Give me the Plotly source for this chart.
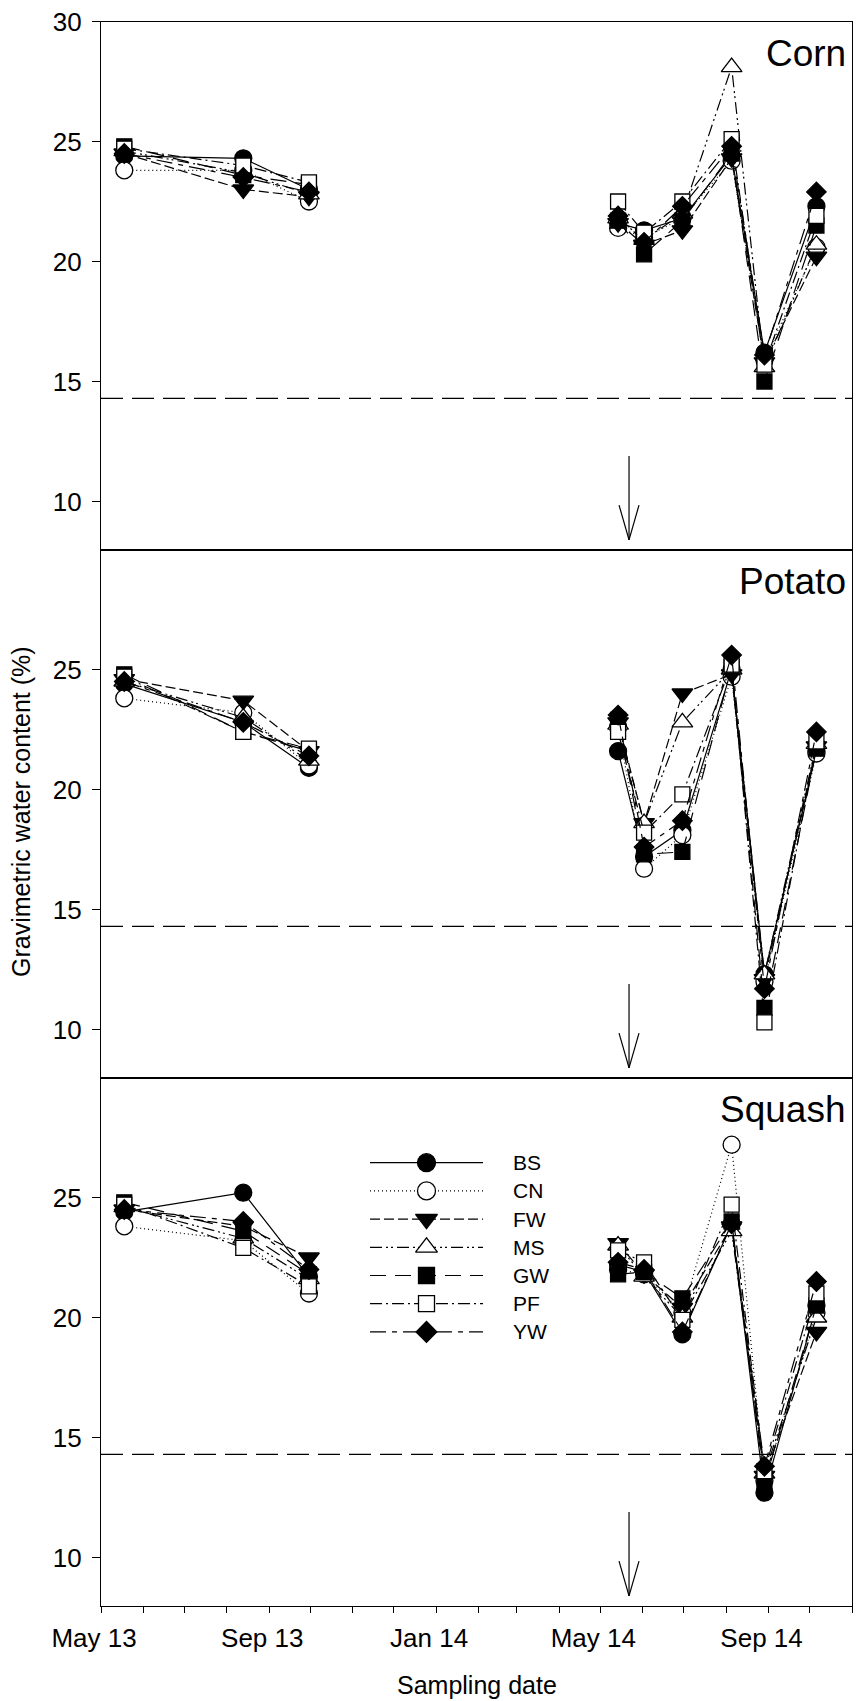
import pandas as pd
import plotly.graph_objects as go

W, H = 856, 1701
FONT = "Liberation Sans, Arial, sans-serif"

# ---- data -----------------------------------------------------------------
SERIES = ["BS", "CN", "FW", "MS", "GW", "PF", "YW"]
CROPS = ["Corn", "Potato", "Squash"]

DATES_2013 = ["2013-05-18", "2013-08-13", "2013-09-30"]
DATES_2014 = ["2014-05-14", "2014-06-02", "2014-06-30",
              "2014-08-05", "2014-08-29", "2014-10-06"]

# gravimetric water content (%), 3 dates in 2013 then 6 dates in 2014
CORN_BS = [24.4, 24.3, 23.0, 21.6, 21.3, 21.8, 24.4, 16.2, 22.3]
CORN_CN = [23.8, 23.8, 22.5, 21.4, 21.0, 21.8, 24.2, 15.9, 20.6]
CORN_FW = [24.5, 23.0, 22.7, 21.6, 20.7, 21.3, 24.3, 15.8, 20.2]
CORN_MS = [24.6, 23.7, 22.8, 21.8, 20.9, 22.0, 28.1, 15.6, 20.7]
CORN_GW = [24.8, 23.6, 23.2, 21.7, 20.3, 21.7, 24.5, 15.0, 21.5]
CORN_PF = [24.7, 24.0, 23.3, 22.5, 21.2, 22.5, 25.1, 15.7, 21.9]
CORN_YW = [24.5, 23.5, 22.9, 21.9, 20.8, 22.3, 24.8, 16.1, 22.9]

POTATO_BS = [24.4, 22.8, 20.9, 21.6, 17.2, 18.3, 25.0, 12.3, 21.6]
POTATO_CN = [23.8, 23.2, 21.0, 22.6, 16.7, 18.1, 24.7, 12.0, 21.5]
POTATO_FW = [24.6, 23.7, 21.6, 22.8, 18.6, 24.0, 24.8, 12.1, 21.8]
POTATO_MS = [24.5, 23.0, 21.2, 22.7, 18.6, 22.8, 25.0, 12.3, 21.9]
POTATO_GW = [24.8, 22.4, 21.6, 22.9, 17.3, 17.4, 25.1, 10.9, 21.7]
POTATO_PF = [24.7, 22.4, 21.7, 22.4, 18.2, 19.8, 25.2, 10.3, 22.0]
POTATO_YW = [24.5, 22.8, 21.4, 23.1, 17.6, 18.7, 25.6, 11.7, 22.4]

SQUASH_BS = [24.4, 25.2, 21.7, 22.2, 21.9, 19.3, 23.9, 12.7, 20.5]
SQUASH_CN = [23.8, 23.2, 21.0, 22.0, 21.8, 20.2, 27.2, 13.2, 20.2]
SQUASH_FW = [24.5, 23.8, 22.5, 23.1, 21.8, 20.4, 23.8, 13.4, 19.4]
SQUASH_MS = [24.6, 23.3, 21.6, 23.0, 21.7, 20.0, 23.6, 13.5, 20.0]
SQUASH_GW = [24.8, 23.6, 21.8, 21.8, 21.9, 20.8, 24.0, 13.1, 20.5]
SQUASH_PF = [24.7, 22.9, 21.3, 22.8, 22.3, 19.9, 24.7, 13.6, 21.0]
SQUASH_YW = [24.5, 24.0, 22.0, 22.3, 22.0, 19.4, 23.9, 13.8, 21.5]

CROP_DATA = {
    "Corn": [CORN_BS, CORN_CN, CORN_FW, CORN_MS, CORN_GW, CORN_PF, CORN_YW],
    "Potato": [POTATO_BS, POTATO_CN, POTATO_FW, POTATO_MS, POTATO_GW, POTATO_PF, POTATO_YW],
    "Squash": [SQUASH_BS, SQUASH_CN, SQUASH_FW, SQUASH_MS, SQUASH_GW, SQUASH_PF, SQUASH_YW],
}

WILTING_POINT = 14.3          # horizontal reference line
ARROW_DATE = "2014-05-22"     # event marker
ARROW_TOP, ARROW_TIP = 11.9, 8.4

Y_TICKS_TOP = [10, 15, 20, 25, 30]
Y_TICKS = [10, 15, 20, 25]

# ---- styles -----------------------------------------------------------------
SYMBOLS = ["circle", "circle", "triangle-down", "triangle-up", "square", "square", "diamond"]
FILLS = ["black", "white", "black", "white", "black", "white", "black"]
DASHES = ["solid", "1px,3px", "10px,4px", "12px,4px,2px,3px,2px,4px",
          "16px,9px", "12px,4px,2px,4px", "16px,6px,5px,6px"]
SIZES = [17, 17, 18, 18, 15, 15, 15]
LINE_W = 1.2

X_LEFT, X_RIGHT = 101, 852
PANEL_TOPS = [21.5, 549.5, 1077.5]
PANEL_H = 528


def ydom(top):
    return [1 - (top + PANEL_H) / H, 1 - top / H]


fig = go.Figure()

x_all = DATES_2013 + ["2014-01-15"] + DATES_2014

for p, crop in enumerate(CROPS):
    xa = "x" if p == 0 else f"x{p + 1}"
    ya = "y" if p == 0 else f"y{p + 1}"
    for i, name in enumerate(SERIES):
        vals = CROP_DATA[crop][i]
        y_all = vals[:3] + [None] + vals[3:]
        fig.add_trace(go.Scatter(
            x=x_all, y=y_all, xaxis=xa, yaxis=ya, name=name,
            mode="lines+markers", connectgaps=False, showlegend=False,
            line=dict(color="black", width=LINE_W, dash=DASHES[i]),
            marker=dict(symbol=SYMBOLS[i], size=SIZES[i], color=FILLS[i],
                        line=dict(color="black", width=1.3)),
        ))

# ---- axes -------------------------------------------------------------------
axis_line = dict(showline=True, linecolor="black", linewidth=1.3, mirror=True,
                 showgrid=False, zeroline=False)
tick_font = dict(family=FONT, size=26, color="black")

layout_axes = {}
for p in range(3):
    xk = "xaxis" if p == 0 else f"xaxis{p + 1}"
    yk = "yaxis" if p == 0 else f"yaxis{p + 1}"
    ya = "y" if p == 0 else f"y{p + 1}"
    xa = "x" if p == 0 else f"x{p + 1}"
    xcfg = dict(axis_line, type="date", range=["2013-05-01", "2014-11-01"],
                domain=[X_LEFT / W, X_RIGHT / W], anchor=ya)
    if p == 2:
        xcfg.update(ticks="outside", ticklen=6, tickcolor="black", tickwidth=1.2,
                    dtick="M4", tick0="2013-05-01", tickformat="%b %y",
                    tickfont=tick_font, ticklabelshift=-7, ticklabelstandoff=3,
                    minor=dict(ticks="outside", ticklen=6, dtick="M1",
                               tick0="2013-05-01", tickcolor="black", tickwidth=1.2))
    else:
        xcfg.update(showticklabels=False, ticks="")
    layout_axes[xk] = xcfg
    layout_axes[yk] = dict(axis_line, range=[8, 30], domain=ydom(PANEL_TOPS[p]),
                           anchor=xa, ticks="outside", ticklen=8,
                           tickcolor="black", tickwidth=1.2,
                           tickvals=Y_TICKS_TOP if p == 0 else Y_TICKS,
                           tickfont=tick_font, ticklabelstandoff=5)

# overlay axis in pixel units for the legend block
layout_axes["xaxis4"] = dict(domain=[0, 1], range=[0, W], visible=False, anchor="y4")
layout_axes["yaxis4"] = dict(domain=[0, 1], range=[H, 0], visible=False, anchor="x4")

fig.update_layout(**layout_axes)

# ---- reference line and arrows ---------------------------------------------
shapes = []
arrow_x = pd.Timestamp(ARROW_DATE)
head_dx = pd.Timedelta(days=7.3)
head_len = 1.45
for p in range(3):
    xa = "x" if p == 0 else f"x{p + 1}"
    ya = "y" if p == 0 else f"y{p + 1}"
    shapes.append(dict(type="line", xref=f"{xa} domain", yref=ya, x0=0, x1=1,
                       y0=WILTING_POINT, y1=WILTING_POINT,
                       line=dict(color="black", width=1.3, dash="22px,9px")))
    shapes.append(dict(type="line", xref=xa, yref=ya, x0=arrow_x, x1=arrow_x,
                       y0=ARROW_TOP, y1=ARROW_TIP, line=dict(color="black", width=1.2)))
    for sgn in (-1, 1):
        shapes.append(dict(type="line", xref=xa, yref=ya,
                           x0=arrow_x, y0=ARROW_TIP,
                           x1=arrow_x + sgn * head_dx, y1=ARROW_TIP + head_len,
                           line=dict(color="black", width=1.2)))

# ---- legend block (panel 3) ------------------------------------------------
LEG_X0, LEG_XM, LEG_X1, LEG_TX = 370, 426.5, 483, 511
LEG_Y0, LEG_DY = 1162.7, 28.2
annotations = []
for i, name in enumerate(SERIES):
    yy = LEG_Y0 + i * LEG_DY
    fig.add_trace(go.Scatter(
        x=[LEG_X0, LEG_X1], y=[yy, yy], xaxis="x4", yaxis="y4",
        mode="lines", showlegend=False, hoverinfo="skip",
        line=dict(color="black", width=LINE_W, dash=DASHES[i]),
    ))
    fig.add_trace(go.Scatter(
        x=[LEG_XM], y=[yy], xaxis="x4", yaxis="y4",
        mode="markers", showlegend=False, hoverinfo="skip",
        marker=dict(symbol=SYMBOLS[i], size=SIZES[i] + 1, color=FILLS[i],
                    opacity=1, line=dict(color="black", width=1.3)),
    ))
    annotations.append(dict(xref="x4", yref="y4", x=LEG_TX, y=yy, text=name,
                            xanchor="left", yanchor="middle", showarrow=False,
                            font=dict(family=FONT, size=21, color="black")))

# ---- panel titles and axis titles ---------------------------------------------
for p, crop in enumerate(CROPS):
    annotations.append(dict(xref="paper", yref="paper", x=848 / W,
                            y=1 - (PANEL_TOPS[p] + 32) / H, text=crop,
                            xanchor="right", yanchor="middle", showarrow=False,
                            font=dict(family=FONT, size=37, color="black")))

annotations.append(dict(xref="paper", yref="paper", x=21 / W, y=1 - 812 / H,
                        text="Gravimetric water content (%)", textangle=-90,
                        xanchor="center", yanchor="middle", showarrow=False,
                        font=dict(family=FONT, size=25, color="black")))
annotations.append(dict(xref="paper", yref="paper", x=476.5 / W, y=1 - 1685 / H,
                        text="Sampling date", xanchor="center", yanchor="middle",
                        showarrow=False, font=dict(family=FONT, size=25, color="black")))

fig.update_layout(
    width=W, height=H, margin=dict(l=0, r=0, t=0, b=0, autoexpand=False),
    paper_bgcolor="white", plot_bgcolor="rgba(0,0,0,0)",
    showlegend=False, shapes=shapes, annotations=annotations,
    font=dict(family=FONT, color="black"),
)

fig.write_html("out.html")
